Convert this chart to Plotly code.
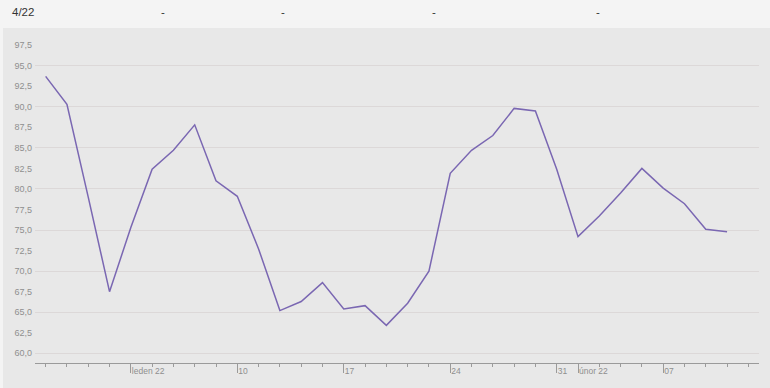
import numpy as np
import plotly.graph_objects as go

# ---- data ----
dates = ["2021-12-28", "2021-12-29", "2021-12-30", "2021-12-31",
         "2022-01-03", "2022-01-04", "2022-01-05", "2022-01-06", "2022-01-07",
         "2022-01-10", "2022-01-11", "2022-01-12", "2022-01-13", "2022-01-14",
         "2022-01-17", "2022-01-18", "2022-01-19", "2022-01-20", "2022-01-21",
         "2022-01-24", "2022-01-25", "2022-01-26", "2022-01-27", "2022-01-28",
         "2022-01-31", "2022-02-01", "2022-02-02", "2022-02-03", "2022-02-04",
         "2022-02-07", "2022-02-08", "2022-02-09", "2022-02-10"]
values = [93.7, 90.3, 79.0, 67.5,
          75.3, 82.4, 84.7, 87.8, 81.0,
          79.1, 72.7, 65.2, 66.3, 68.6,
          65.4, 65.8, 63.4, 66.1, 70.0,
          81.9, 84.7, 86.5, 89.8, 89.5,
          82.4, 74.2, 76.7, 79.5, 82.5,
          80.1, 78.2, 75.1, 74.8]
major_tick_dates = ["2022-01-03", "2022-01-10", "2022-01-17", "2022-01-24",
                    "2022-01-31", "2022-02-01", "2022-02-07"]
major_tick_labels = ["leden 22", "10", "17", "24", "31", "únor 22", "07"]
header_texts = ["4/22", "-", "-", "-", "-"]
header_x = [-0.0345, 0.1768, 0.3425, 0.5511, 0.7776]

# business-day index (weekends removed)
start = dates[0]
x_idx = np.busday_count(start, dates).tolist()
major_idx = np.busday_count(start, major_tick_dates).tolist()

LINE = "#7a67b2"
GRID = "#dcd8d8"
TXT = "#8f8f8f"
FONT = "Liberation Sans, Arial, sans-serif"

fig = go.Figure()
fig.add_trace(go.Scatter(x=x_idx, y=values, mode="lines",
                         line=dict(color=LINE, width=1.5),
                         hoverinfo="skip", showlegend=False))
fig.add_trace(go.Scatter(x=[None], y=[None], yaxis="y2", showlegend=False,
                         hoverinfo="skip"))

yr = [58.82, 98.49]
fig.update_layout(
    width=770, height=388,
    margin=dict(l=35, r=11, t=37, b=25),
    paper_bgcolor="#e8e8e8",
    plot_bgcolor="#e8e8e8",
    separators=", ",
    font=dict(family=FONT, size=9, color=TXT),
    xaxis=dict(
        range=[-0.5, 33.5], automargin=False,
        tickmode="array", tickvals=major_idx, ticktext=major_tick_labels,
        tickangle=0,
        ticks="outside", ticklen=9, tickwidth=1, tickcolor="#9a9a9a",
        ticklabelposition="outside right",
        tickfont=dict(size=8.5, color=TXT),
        showgrid=False, zeroline=False,
        showline=True, linecolor="#9a9a9a", linewidth=1,
        minor=dict(dtick=1, tick0=0, ticks="outside", ticklen=3,
                   tickcolor="#9a9a9a", tickwidth=1, showgrid=False),
    ),
    yaxis=dict(
        range=yr, tick0=0, dtick=2.5, tickformat=".1f", automargin=False,
        showgrid=False, zeroline=False, showline=False, ticks="",
        tickfont=dict(size=9, color=TXT), ticklabelstandoff=2,
    ),
    yaxis2=dict(
        range=yr, overlaying="y", tick0=0, dtick=5, automargin=False,
        showgrid=True, gridcolor=GRID, gridwidth=1,
        showticklabels=False, zeroline=False, showline=False, ticks="",
    ),
    shapes=[
        dict(type="rect", xref="paper", yref="paper", layer="below",
             xsizemode="pixel", xanchor=0, x0=-35, x1=735,
             ysizemode="pixel", yanchor=1, y0=9, y1=40,
             fillcolor="#f4f4f4", line=dict(width=0)),
        dict(type="rect", xref="paper", yref="paper", layer="below",
             xsizemode="pixel", xanchor=0, x0=-35, x1=-32,
             ysizemode="pixel", yanchor=0, y0=-30, y1=340,
             fillcolor="#f4f4f4", line=dict(width=0)),
    ],
)

for i, (t, xp) in enumerate(zip(header_texts, header_x)):
    fig.add_annotation(
        text=t, xref="paper", yref="paper", x=xp, y=1 + 25 / 326,
        xanchor="left" if i == 0 else "center", yanchor="middle",
        showarrow=False,
        font=dict(family=FONT, size=11.5, color="#333333"))

fig.write_html("out.html")
